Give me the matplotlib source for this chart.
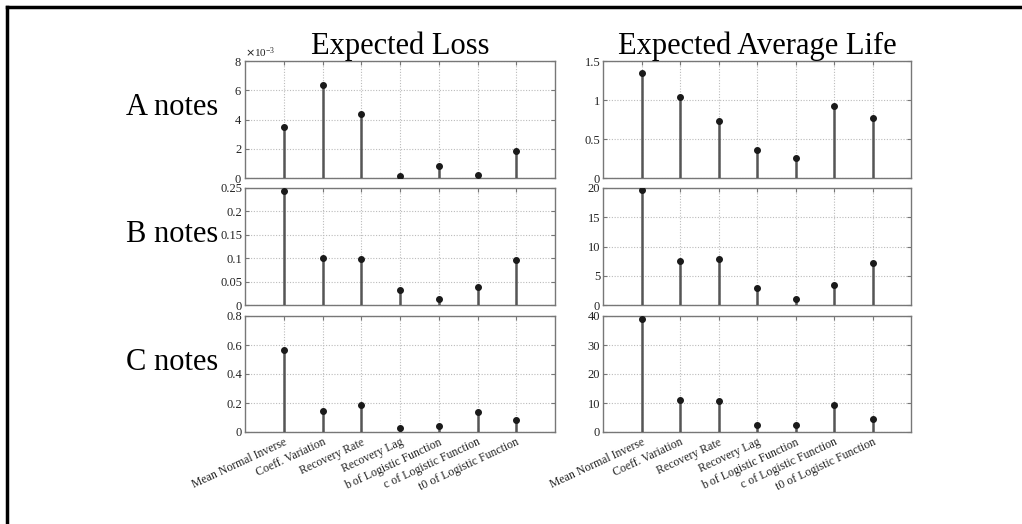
import matplotlib
matplotlib.use("Agg")
import matplotlib.pyplot as plt
from matplotlib.ticker import MultipleLocator, FormatStrFormatter
from matplotlib.lines import Line2D

categories = ["Mean Normal Inverse", "Coeff. Variation", "Recovery Rate",
              "Recovery Lag", "b of Logistic Function", "c of Logistic Function",
              "t0 of Logistic Function"]

row_labels = ["A notes", "B notes", "C notes"]
col_titles = ["Expected Loss", "Expected Average Life"]

a_loss = [0.00352, 0.00637, 0.00435, 0.00016, 0.00084, 0.00019, 0.00186]
a_life = [1.345, 1.043, 0.728, 0.354, 0.26, 0.928, 0.77]
b_loss = [0.244, 0.101, 0.0986, 0.032, 0.013, 0.039, 0.096]
b_life = [19.6, 7.47, 7.93, 2.93, 1.03, 3.39, 7.24]
c_loss = [0.568, 0.143, 0.184, 0.030, 0.039, 0.138, 0.080]
c_life = [39.1, 10.9, 10.6, 2.3, 2.3, 9.2, 4.4]

data = [[a_loss, a_life], [b_loss, b_life], [c_loss, c_life]]
ylims = [[0.008, 1.5], [0.25, 20], [0.8, 40]]
ysteps = [[0.002, 0.5], [0.05, 5], [0.2, 10]]

serif = ["Liberation Serif", "DejaVu Serif"]
plt.rcParams["font.family"] = serif

fig = plt.figure(figsize=(10.22, 5.24), dpi=100)
W, H = 1022, 524

col_x = [(245, 310), (603, 308)]
row_y = [(61, 178), (188, 305), (316, 432)]

x = list(range(1, len(categories) + 1))

for r in range(3):
    for c in range(2):
        x0, w = col_x[c]
        top, bot = row_y[r]
        ax = fig.add_axes([x0 / W, 1 - bot / H, w / W, (bot - top) / H])
        vals = data[r][c]
        ax.vlines(x, 0, vals, color="#555555", lw=1.8, zorder=3)
        ax.plot(x, vals, linestyle="none", marker="o", ms=4,
                color="#1a1a1a", zorder=4)
        ax.set_xlim(0, 8)
        ax.set_ylim(0, ylims[r][c])
        ax.yaxis.set_major_locator(MultipleLocator(ysteps[r][c]))
        ax.set_xticks(x)
        ax.grid(True, linestyle=(0, (1, 1.5)), color="#bbbbbb", lw=0.8)
        ax.set_axisbelow(True)
        for s in ax.spines.values():
            s.set_color("#777777")
            s.set_linewidth(1.0)
        ax.tick_params(direction="in", length=3, colors="#777777",
                       labelcolor="#222222", labelsize=9, top=True, right=True,
                       pad=2)
        if r == 0 and c == 0:
            ax.ticklabel_format(axis="y", style="sci", scilimits=(0, 0),
                                useMathText=True)
            ax.yaxis.get_offset_text().set_fontsize(8)
        else:
            ax.yaxis.set_major_formatter(FormatStrFormatter("%g"))
        if r == 2:
            ax.set_xticklabels(categories, rotation=25, ha="right",
                               rotation_mode="anchor", fontsize=8.5)
            ax.tick_params(axis="x", pad=3)
        else:
            ax.set_xticklabels([])
        if r == 0:
            ax.set_title(col_titles[c], fontsize=22, pad=1)
        if c == 0:
            cy = 1 - ((top + bot) / 2 - 12) / H
            fig.text(172 / W, cy, row_labels[r], fontsize=22,
                     ha="center", va="center")

# partial frame around the figure
fig.add_artist(Line2D([7 / W, 1.0], [1 - 7 / H, 1 - 7 / H],
                      transform=fig.transFigure, color="black", lw=2.5))
fig.add_artist(Line2D([7 / W, 7 / W], [0.0, 1 - 7 / H],
                      transform=fig.transFigure, color="black", lw=2.5))

fig.savefig("out.png", dpi=100)
